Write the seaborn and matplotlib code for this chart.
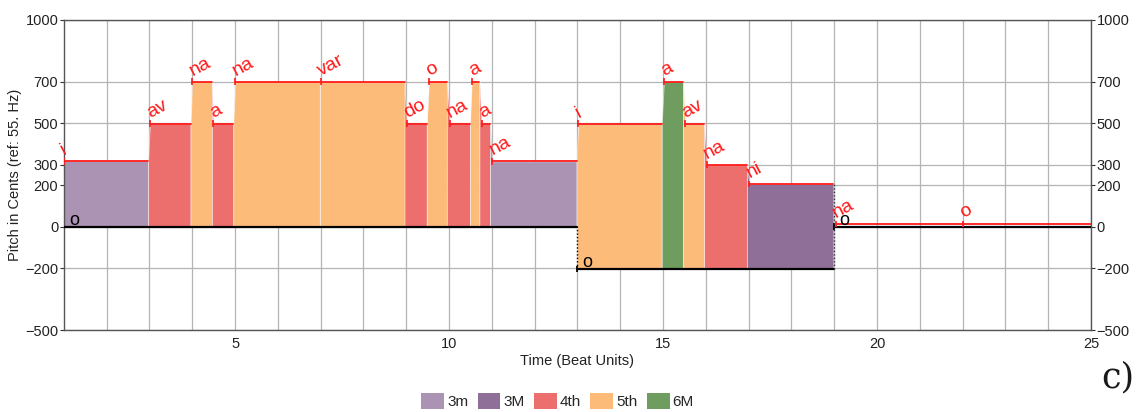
import numpy as np
import pandas as pd
import matplotlib
matplotlib.use("Agg")
import matplotlib.pyplot as plt
from matplotlib.patches import Patch
import seaborn as sns

# Sung syllables with their held pitch (cents above 55 Hz) and timing (beats)
syllables = ["i", "av", "na", "a", "na", "var", "do", "o", "na", "a", "a", "na",
             "i", "a", "av", "na", "ni", "na", "o"]
note_start = [1.00, 3.01, 4.00, 4.49, 5.00, 7.00, 9.01, 9.53, 10.02, 10.53, 10.76, 11.01,
              13.02, 15.02, 15.52, 16.02, 17.02, 19.04, 22.00]
note_end = [2.97, 3.96, 4.46, 4.96, 6.98, 8.96, 9.48, 9.95, 10.49, 10.71, 10.96, 12.98,
            14.97, 15.47, 15.96, 16.96, 18.98, 21.98, 25.00]
note_pitch = [316, 498, 702, 498, 702, 702, 498, 702, 498, 702, 498, 316,
              498, 702, 498, 300, 207, 12, 12]
note_interval = ["3m", "4th", "5th", "4th", "5th", "5th", "4th", "5th", "4th", "5th", "4th", "3m",
                 "5th", "6M", "5th", "4th", "3M", "", ""]

# Drone (tonic) sections: start, end, pitch
drone_start = [1.0, 13.0, 19.0]
drone_end = [13.0, 19.0, 25.0]
drone_pitch = [0, -204, 0]

interval_names = ["3m", "3M", "4th", "5th", "6M"]
interval_colors = ["#ab93b3", "#8f6f98", "#ec6e6d", "#fdbb79", "#6f9c5f"]
color_of = dict(zip(interval_names, interval_colors))

y_ticks = [-500, -200, 0, 200, 300, 500, 700, 1000]
x_ticks = [5, 10, 15, 20, 25]

sns.set_theme(style="whitegrid")
plt.rcParams["font.family"] = ["Liberation Sans", "DejaVu Sans"]

fig = plt.figure(figsize=(11.38, 4.12), dpi=100)
ax = fig.add_axes([0.0561, 0.199, 0.9026, 0.7525])


def drone_for(t):
    for s, e, p in zip(drone_start, drone_end, drone_pitch):
        if s <= t < e:
            return p
    return drone_pitch[-1]


# Filled blocks: each note spans from the end of the previous note (glide) to its own end
for k in range(len(syllables)):
    iv = note_interval[k]
    if not iv:
        continue
    base = drone_for(note_start[k])
    if k == 0:
        xs = [note_start[k], note_end[k]]
        ys = [note_pitch[k], note_pitch[k]]
    else:
        xs = [note_end[k - 1], note_start[k], note_end[k]]
        ys = [note_pitch[k - 1], note_pitch[k], note_pitch[k]]
    ax.fill_between(xs, ys, base, color=color_of[iv], edgecolor=(1, 1, 1, 0.55),
                    linewidth=0.6, zorder=2)

# Held-pitch lines in red, one unit per note
rows = []
for k in range(len(syllables)):
    rows.append({"note": k, "t": note_start[k], "cents": note_pitch[k]})
    rows.append({"note": k, "t": note_end[k], "cents": note_pitch[k]})
notes_df = pd.DataFrame(rows)
sns.lineplot(data=notes_df, x="t", y="cents", units="note", estimator=None,
             color="#ff1a1a", linewidth=1.3, ax=ax, zorder=4)
ax.vlines(note_start, np.array(note_pitch) - 16, np.array(note_pitch) + 16,
          color="#ff1a1a", linewidth=1.2, zorder=4)
for k in range(len(syllables)):
    ax.text(note_start[k] + 0.05, note_pitch[k] + 12, syllables[k], color="#ff1a1a",
            fontsize=14, rotation=28, rotation_mode="anchor", ha="left", va="bottom",
            zorder=5)

# Drone lines in black with a cap at each section start
drone_rows = []
for k in range(len(drone_start)):
    drone_rows.append({"sec": k, "t": drone_start[k], "cents": drone_pitch[k]})
    drone_rows.append({"sec": k, "t": drone_end[k], "cents": drone_pitch[k]})
sns.lineplot(data=pd.DataFrame(drone_rows), x="t", y="cents", units="sec", estimator=None,
             color="black", linewidth=1.6, ax=ax, zorder=3)
ax.vlines(drone_start[1:], np.array(drone_pitch[1:]) - 16, np.array(drone_pitch[1:]) + 16,
          color="black", linewidth=1.3, zorder=3)
for k in range(len(drone_start)):
    ax.text(drone_start[k] + 0.24, drone_pitch[k] + 30, "o", color="black",
            fontsize=13, ha="center", va="center", zorder=5)

# Dotted connectors where the drone moves
ax.vlines(drone_start[1], drone_pitch[1], drone_pitch[0], colors="black",
          linestyles=(0, (1, 1.5)), linewidth=1.0, zorder=3)
ax.vlines(drone_start[2], drone_pitch[1], note_pitch[16], colors="#333333",
          linestyles=(0, (1, 1.5)), linewidth=1.0, zorder=3)

ax.set_xlim(1, 25)
ax.set_ylim(-500, 1000)
ax.set_xticks(x_ticks)
ax.set_xticks(np.arange(2, 25), minor=True)
ax.set_yticks(y_ticks)
ax.grid(True, which="both", axis="x", color="#b4b4b4", linewidth=0.9)
ax.grid(True, which="major", axis="y", color="#b4b4b4", linewidth=0.9)
ax.set_axisbelow(True)
ax.set_facecolor("white")
for sp in ax.spines.values():
    sp.set_color("#555555")
    sp.set_linewidth(1.0)
ax.tick_params(axis="y", which="major", left=True, right=True, labelleft=True,
               labelright=True, length=3, width=0.8, color="#333333", pad=1,
               labelsize=10.5, labelcolor="#222222")
ax.tick_params(axis="x", which="both", length=0, pad=5, labelsize=10.5,
               labelcolor="#222222")
ax.set_xlabel("Time (Beat Units)", fontsize=10.5, color="#222222", labelpad=2)
ax.set_ylabel("Pitch in Cents (ref: 55. Hz)", fontsize=10.5, color="#222222", labelpad=2)

handles = [Patch(facecolor=c, edgecolor="none", label=n)
           for n, c in zip(interval_names, interval_colors)]
fig.legend(handles=handles, loc="center", bbox_to_anchor=(0.49, 0.026), ncol=5,
           frameon=False, fontsize=11, handlelength=1.5, handleheight=1.15,
           handletextpad=0.2, columnspacing=0.6)

fig.text(0.982, 0.085, "c)", fontsize=25, family=["DejaVu Serif"],
         ha="center", va="center", color="#1a1a1a")

fig.savefig("out.png", dpi=100)
